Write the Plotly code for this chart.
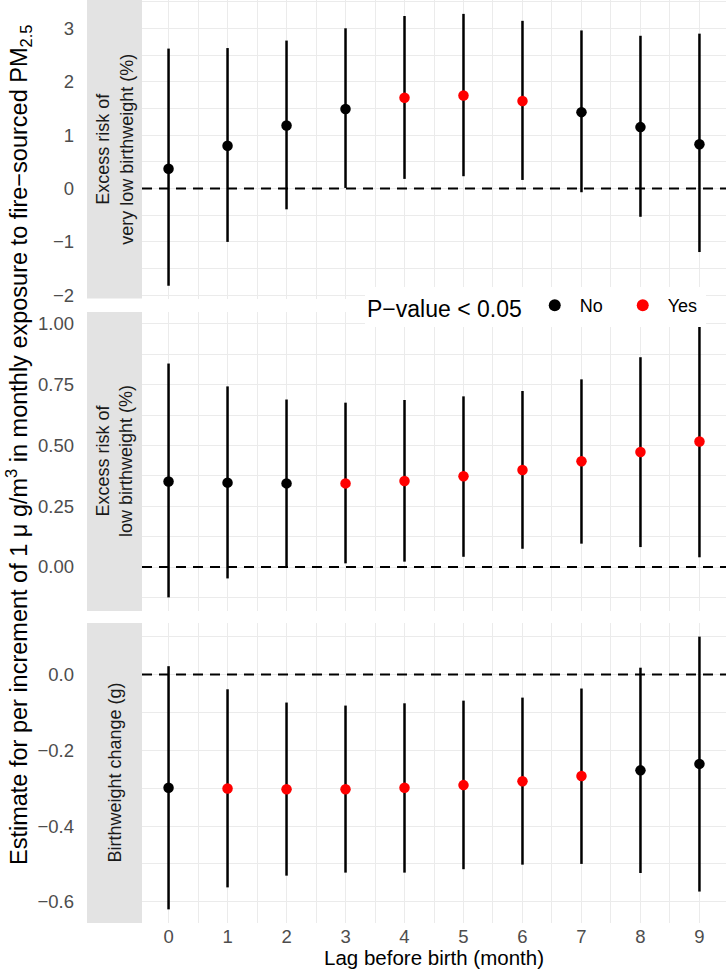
import plotly.graph_objects as go

lags = [0, 1, 2, 3, 4, 5, 6, 7, 8, 9]

vlbw_est = [0.37, 0.80, 1.18, 1.49, 1.70, 1.74, 1.64, 1.43, 1.15, 0.83]
vlbw_lo = [-1.82, -1.00, -0.39, 0.01, 0.18, 0.23, 0.16, -0.07, -0.53, -1.19]
vlbw_hi = [2.62, 2.63, 2.77, 3.00, 3.23, 3.27, 3.14, 2.96, 2.86, 2.90]
vlbw_sig = [False, False, False, False, True, True, True, False, False, False]

lbw_est = [0.352, 0.347, 0.344, 0.344, 0.354, 0.373, 0.399, 0.435, 0.473, 0.516]
lbw_lo = [-0.125, -0.047, 0.000, 0.015, 0.022, 0.042, 0.075, 0.096, 0.082, 0.040]
lbw_hi = [0.837, 0.743, 0.689, 0.676, 0.687, 0.702, 0.724, 0.772, 0.863, 1.000]
lbw_sig = [False, False, False, True, True, True, True, True, True, True]

bw_est = [-0.299, -0.301, -0.303, -0.303, -0.299, -0.292, -0.282, -0.268, -0.253, -0.236]
bw_lo = [-0.620, -0.562, -0.531, -0.523, -0.523, -0.514, -0.502, -0.500, -0.524, -0.573]
bw_hi = [0.022, -0.039, -0.074, -0.082, -0.076, -0.069, -0.061, -0.037, 0.018, 0.100]
bw_sig = [False, True, True, True, True, True, True, True, False, False]

strip_labels = ["Excess risk of<br>very low birthweight (%)",
                "Excess risk of<br>low birthweight (%)",
                "Birthweight change (g)"]
sig_names = ["No", "Yes"]
sig_colors = ["black", "red"]

panels = [
    (vlbw_est, vlbw_lo, vlbw_hi, vlbw_sig),
    (lbw_est, lbw_lo, lbw_hi, lbw_sig),
    (bw_est, bw_lo, bw_hi, bw_sig),
]

W, H = 728, 978
ML, MR, MT, MB = 142, 2, 0, 55
PW = W - ML - MR
PH = H - MT - MB

# panel pixel extents (top, bottom) measured from top of plot area
panel_px = [(0, 298.5), (312, 611), (623, 923)]
domains = [[(PH - b) / PH, (PH - t) / PH] for t, b in panel_px]

yranges = [[-2.06, 3.53], [-0.181, 1.049], [-0.656, 0.136]]
ydticks = [1, 0.25, 0.2]
yformats = ["", ".2f", ".1f"]

grid = "#ebebeb"
fig = go.Figure()
x0s = (87 - ML) / PW

for i, (est, lo, hi, sig) in enumerate(panels):
    ax = "" if i == 0 else str(i + 1)
    for g, (name, col) in enumerate(zip(sig_names, sig_colors)):
        flag = (g == 1)
        xs = [l for l, s in zip(lags, sig) if s == flag]
        ys = [e for e, s in zip(est, sig) if s == flag]
        up = [h - e for e, h, s in zip(est, hi, sig) if s == flag]
        dn = [e - l_ for e, l_, s in zip(est, lo, sig) if s == flag]
        fig.add_trace(go.Scatter(
            x=xs, y=ys, mode="markers",
            marker=dict(color=col, size=10.5),
            error_y=dict(type="data", symmetric=False, array=up, arrayminus=dn,
                         color="black", thickness=2.5, width=0),
            name=name, legendgroup=name, showlegend=(i == 0),
            xaxis="x" + ax, yaxis="y" + ax,
        ))
    fig.add_shape(type="line", xref="x" + ax, x0=-0.45, x1=9.45,
                  yref="y" + ax, y0=0, y1=0,
                  line=dict(color="black", width=2, dash="10px,7px"))
    # strip
    fig.add_shape(type="rect", xref="paper", yref="paper",
                  x0=x0s, x1=0, y0=domains[i][0], y1=domains[i][1],
                  fillcolor="#e3e3e3", line=dict(width=0), layer="below")
    fig.add_annotation(text=strip_labels[i], xref="paper", yref="paper",
                       x=x0s / 2, y=(domains[i][0] + domains[i][1]) / 2,
                       textangle=-90, showarrow=False,
                       font=dict(size=18, color="#1a1a1a"),
                       xanchor="center", yanchor="middle")
    xa = dict(domain=[0, 1], range=[-0.45, 9.45], anchor="y" + ax,
              tickmode="array", tickvals=lags, ticktext=[str(l) for l in lags],
              showticklabels=(i == 2), showgrid=True, gridcolor=grid,
              gridwidth=1.4, zeroline=False, ticks="", showline=False,
              automargin=False,
              minor=dict(dtick=0.5, tick0=0.5, showgrid=True, gridcolor=grid,
                         gridwidth=0.8),
              tickfont=dict(size=18.5, color="#4d4d4d"))
    if i == 2:
        xa["title"] = dict(text="Lag before birth (month)",
                           font=dict(size=20.5, color="black"), standoff=2)
    ya = dict(domain=domains[i], range=yranges[i], anchor="x" + ax,
              dtick=ydticks[i], tick0=0, tickformat=yformats[i],
              showgrid=True, gridcolor=grid, gridwidth=1.4, zeroline=False,
              ticks="", showline=False, ticklabelstandoff=67, automargin=False,
              minor=dict(dtick=ydticks[i] / 2, showgrid=True, gridcolor=grid,
                         gridwidth=0.8),
              tickfont=dict(size=18.5, color="#4d4d4d"))
    fig.layout["xaxis" + ax] = xa
    fig.layout["yaxis" + ax] = ya

fig.add_annotation(
    text="Estimate for per increment of 1 μ g/m<sup>3</sup> in monthly exposure to fire−sourced PM<sub>2.5</sub>",
    xref="paper", yref="paper", x=(18 - ML) / PW, y=(PH - 445) / PH, textangle=-90,
    showarrow=False, font=dict(size=23.5, color="black"),
    xanchor="center", yanchor="middle")

fig.update_layout(
    width=W, height=H,
    margin=dict(l=ML, r=MR, t=MT, b=MB, autoexpand=False),
    paper_bgcolor="white", plot_bgcolor="white",
    font=dict(family="Liberation Sans, Arial, sans-serif", color="black"),
    legend=dict(orientation="h", x=(365 - ML) / PW, xanchor="left",
                y=(PH - 307) / PH, yanchor="middle", bgcolor="white",
                title=dict(text="P−value &lt; 0.05", side="left",
                           font=dict(size=23)),
                font=dict(size=18), itemsizing="constant", itemwidth=40,
                entrywidth=33),
)

fig.write_html("out.html", config={"displayModeBar": False},
               post_script="document.body.style.margin='0';document.body.style.overflow='hidden';")
